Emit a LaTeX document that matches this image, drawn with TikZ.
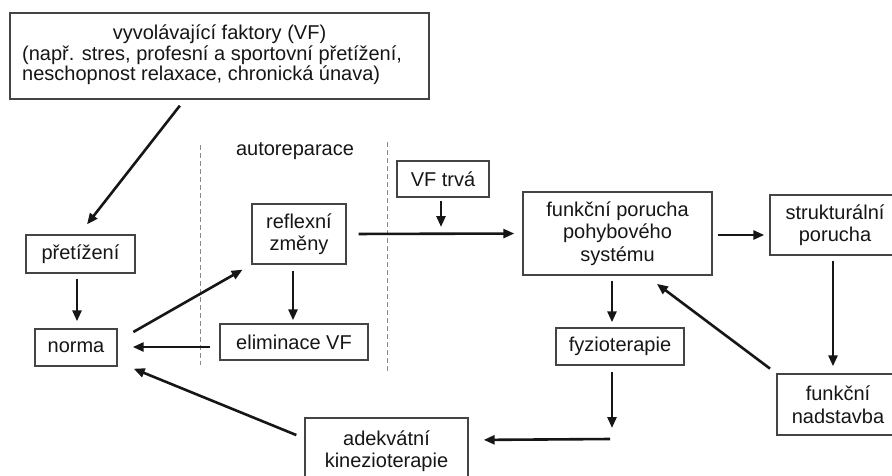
\documentclass[tikz,border=0pt]{standalone}
\usepackage{fontspec}
\setmainfont{Liberation Sans}
\usetikzlibrary{arrows.meta,calc}
\definecolor{ink}{HTML}{161616}
\definecolor{boxline}{HTML}{444444}
\definecolor{dashc}{HTML}{8A8A8A}
\begin{document}
\begin{tikzpicture}[x=1pt,y=-1pt,
  box/.style={draw=boxline,line width=1.4pt,fill=white,align=center,inner sep=0pt,
    font=\fontsize{20}{22.5}\selectfont,text=ink},
  lbl/.style={inner sep=0pt,font=\fontsize{20}{20}\selectfont,text=ink},
  arr/.style={draw=ink,line width=2.6pt,-{Triangle[length=11pt,width=9pt]}},
  sepline/.style={draw=dashc,line width=0.8pt,dash pattern=on 5pt off 3pt}]
\useasboundingbox (0,0) rectangle (892,475);
\clip (0,0) rectangle (892,475);
\fill[white] (0,0) rectangle (892,475);

% separators
\draw[sepline] (200,145) -- (200,365);
\draw[sepline] (387,142) -- (387,372);
\node[lbl] (auto) at (295,151) {autoreparace};

% top box
\node[box,minimum width=419pt,minimum height=86pt] (top) at (219.5,56) {};
\node[lbl] (topa) at (219.5,34) {vyvolávající faktory (VF)};
\node[lbl,align=left,anchor=west] (topb) at (22,65.5) {(např. stres, profesní a sportovní přetížení,\\neschopnost relaxace, chronická únava)};

% boxes
\node[box,minimum width=109pt,minimum height=38pt] (pret) at (80.5,254) {přetížení};
\node[box,minimum width=82pt,minimum height=37pt] (norma) at (76,347.5) {norma};
\node[box,minimum width=94pt,minimum height=60pt] (reflex) at (299,234) {reflexní\\změny};
\node[box,minimum width=148pt,minimum height=36pt] (elim) at (294,342) {eliminace VF};
\node[box,minimum width=92pt,minimum height=36pt] (vftrva) at (443,179) {VF trvá};
\node[box,minimum width=189pt,minimum height=83pt] (funk) at (617.5,233.5) {funkční porucha\\pohybového\\systému};
\node[box,minimum width=130pt,minimum height=60pt] (strukt) at (835,225) {strukturální\\porucha};
\node[box,minimum width=128pt,minimum height=37pt] (fyzio) at (620,346.5) {fyzioterapie};
\node[box,minimum width=122pt,minimum height=61pt] (nadst) at (838,404.5) {funkční\\nadstavba};
\node[box,minimum width=163pt,minimum height=66pt] (adek) at (386.5,451) {adekvátní\\kinezioterapie};

\coordinate (vfend) at (441,227);
\coordinate (fyzend) at (612,428);
\coordinate (kinstart) at (610,439);

% connectors
\draw[arr,shorten <=7.6pt,shorten >=12.6pt] ([xshift=-35pt]top.south) -- ([xshift=-1.25pt]pret.north);
\draw[arr,shorten <=5pt,shorten >=7pt] ([xshift=-3.5pt]pret.south) -- ([xshift=1pt]norma.north);
\draw[arr,shorten <=18pt,shorten >=10pt] ([yshift=6.6pt]norma.east) -- (reflex.south west);
\draw[arr,shorten <=6pt,shorten >=3pt] ([xshift=-6pt]reflex.south) -- ([xshift=-1pt]elim.north);
\draw[arr,shorten <=9pt,shorten >=15pt] ([yshift=-5pt]elim.west) -- ([yshift=0.5pt]norma.east);
\draw[arr,shorten <=12pt,shorten >=8pt] (reflex.east) -- (funk.west);
\draw[arr,shorten <=3pt] ([xshift=-2pt]vftrva.south) -- (vfend);
\draw[arr,shorten <=5pt,shorten >=5pt] ([yshift=-1.5pt]funk.east) -- ([yshift=-10pt]strukt.west);
\draw[arr,shorten <=5pt,shorten >=7pt] ([xshift=-2pt]strukt.south) -- ([xshift=-5pt]nadst.north);
\draw[arr,shorten <=5pt,shorten >=5pt] ([xshift=-5.5pt]funk.south) -- ([xshift=-8pt]fyzio.north);
\draw[arr,shorten <=7.8pt,shorten >=13.6pt] (nadst.north west) -- ([xshift=28.5pt]funk.south);
\draw[arr,shorten <=6pt] ([xshift=-8pt]fyzio.south) -- (fyzend);
\draw[arr,shorten >=15pt] (kinstart) -- ([yshift=11pt]adek.east);
\draw[arr,shorten <=8.6pt] ([yshift=12.7pt]adek.west) -- ([xshift=16pt,yshift=-2pt]norma.south east);
\end{tikzpicture}
\end{document}
